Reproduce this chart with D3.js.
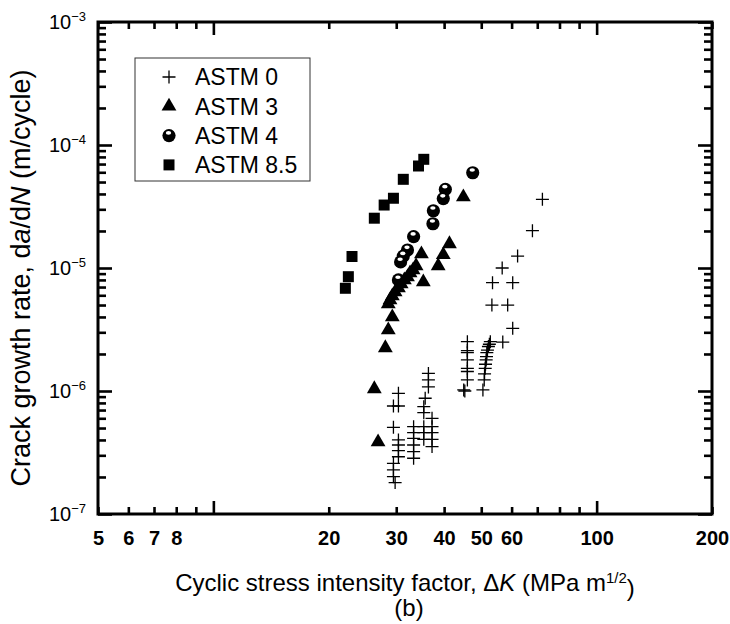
<!DOCTYPE html>
<html>
<head>
	<title>Crack growth rate</title>
	<meta charset='utf-8'>
	<style>
		body { margin: 0; background: #fff; }
		svg { font-family: 'Liberation Sans', Arial, sans-serif; }
		.axis path.domain { display: none; }
		.axis line { stroke: #000; stroke-width: 2.6px; }
		.axis__x text { font-size: 20px; font-weight: bold; fill: #000; }
		.axis__y text { font-size: 20px; fill: #000; }
		.frame { fill: none; stroke: #000; stroke-width: 3px; }
		.cross { fill: none; stroke: #000; stroke-width: 1.3px; }
		.legend-box { fill: #fff; stroke: #333; stroke-width: 1px; }
		.legend text { font-size: 23px; }
		.label { font-size: 24px; }
	</style>
</head>
<body>

<script src='https://d3js.org/d3.v7.min.js'></script>
<script>
	'use strict';

	// ticks
	const xTicks = [5, 6, 7, 8, 9, 10, 20, 30, 40, 50, 60, 70, 80, 90, 100, 200];
	const xLabels = [5, 6, 7, 8, 20, 30, 40, 50, 60, 100, 200];
	const xMajor = [10, 100];
	const yDecades = [-7, -6, -5, -4, -3];

	// legend
	const series = ['ASTM 0', 'ASTM 3', 'ASTM 4', 'ASTM 8.5'];

	// ASTM 0 (crosses)
	const astm0K = [72.2, 68.0, 62.2, 56.7, 53.5, 60.4, 53.3, 58.6, 60.4, 56.9,
		46.0, 46.0, 46.0, 46.0, 46.0, 46.0, 46.0, 45.0, 45.3,
		52.8, 52.5, 52.2, 51.9, 51.7, 51.6, 51.5, 51.3, 51.2, 51.0, 50.9, 50.5,
		30.4, 29.5, 30.4, 29.5, 30.4, 30.4, 30.4, 30.4, 29.5, 29.5, 29.5, 29.8,
		33.3, 33.3, 33.3, 33.3, 33.3, 33.3,
		35.4, 35.4, 37.2, 36.4, 36.4, 36.4, 35.7,
		35.4, 35.4, 35.4, 37.2, 37.2, 37.2, 37.2];
	const astm0Rate = [3.62e-5, 2.01e-5, 1.25e-5, 1.0e-5, 7.6e-6, 7.6e-6, 5.0e-6, 5.0e-6, 3.23e-6, 2.5e-6,
		2.52e-6, 2.13e-6, 2.05e-6, 1.79e-6, 1.53e-6, 1.44e-6, 1.23e-6, 1.02e-6, 1.0e-6,
		2.52e-6, 2.4e-6, 2.3e-6, 2.15e-6, 2.05e-6, 1.9e-6, 1.79e-6, 1.65e-6, 1.53e-6, 1.38e-6, 1.23e-6, 1.02e-6,
		9.58e-7, 7.55e-7, 7.55e-7, 5.07e-7, 4.0e-7, 3.64e-7, 3.27e-7, 2.92e-7, 2.58e-7, 2.28e-7, 2.01e-7, 1.8e-7,
		5.13e-7, 4.58e-7, 4.12e-7, 3.64e-7, 3.21e-7, 2.84e-7,
		7.45e-7, 6.66e-7, 6.0e-7, 1.39e-6, 1.23e-6, 1.08e-6, 8.73e-7,
		5.13e-7, 4.58e-7, 4.05e-7, 5.13e-7, 4.58e-7, 4.05e-7, 3.53e-7];

	// ASTM 3 (triangles)
	const astm3K = [44.9, 41.3, 39.8, 38.6, 34.9, 35.3,
		28.6, 28.9, 29.3, 29.8, 30.4, 30.9, 31.5, 32.1, 32.6, 33.2, 33.8,
		29.3, 28.6, 28.1, 26.3, 26.9];
	const astm3Rate = [3.78e-5, 1.57e-5, 1.28e-5, 1.04e-5, 1.30e-5, 7.7e-6,
		5.1e-6, 5.49e-6, 5.92e-6, 6.38e-6, 6.88e-6, 7.41e-6, 7.99e-6, 8.45e-6, 9.1e-6, 9.63e-6, 1.04e-5,
		4.0e-6, 3.13e-6, 2.24e-6, 1.04e-6, 3.85e-7];

	// ASTM 4 (circles)
	const astm4K = [47.5, 40.3, 39.8, 37.5, 37.4, 33.3, 32.1, 31.3, 30.8, 30.4];
	const astm4Rate = [5.95e-5, 4.36e-5, 3.67e-5, 2.92e-5, 2.29e-5, 1.80e-5, 1.40e-5, 1.25e-5, 1.12e-5, 8.0e-6];

	// ASTM 8.5 (squares)
	const astm85K = [35.4, 34.3, 31.3, 29.5, 27.9, 26.3, 23.0, 22.5, 22.1];
	const astm85Rate = [7.65e-5, 6.75e-5, 5.26e-5, 3.69e-5, 3.25e-5, 2.54e-5, 1.24e-5, 8.5e-6, 6.84e-6];

	const margin = {top: 22, right: 18, bottom: 110, left: 98};
	const width = 730 - margin.left - margin.right;
	const height = 624 - margin.top - margin.bottom;

	const xScale = d3.scaleLog().domain([5, 200]).range([0, width]);
	const yScale = d3.scaleLog().domain([1e-7, 1e-3]).range([height, 0]);

	const yTicks = [];
	yDecades.forEach(function(e) {
		for (let m = 1; m <= 9; m++) {
			if (e === -3 && m > 1) break;
			yTicks.push(m * Math.pow(10, e));
		}
	});
	const isDecade = function(d) {return Math.abs(Math.log10(d) - Math.round(Math.log10(d))) < 1e-6;};

	const svg = d3.select('body').append('svg')
		.attr('width', 730)
		.attr('height', 624);

	const g = svg.append('g')
		.attr('transform', 'translate(' + margin.left + ',' + margin.top + ')');

	// axes, ticks point inward
	const axisB = g.append('g')
		.attr('class', 'axis axis__x')
		.attr('transform', 'translate(0,' + height + ')')
		.call(d3.axisBottom(xScale)
			.tickValues(xTicks)
			.tickSize(-7)
			.tickPadding(17)
			.tickFormat(function(d) {return xLabels.indexOf(d) >= 0 ? d : '';})
		);
	axisB.selectAll('.tick line').filter(function(d) {return xMajor.indexOf(d) >= 0;}).attr('y2', -13);

	const axisT = g.append('g')
		.attr('class', 'axis')
		.call(d3.axisTop(xScale).tickValues(xTicks).tickSize(-7).tickFormat(''));
	axisT.selectAll('.tick line').filter(function(d) {return xMajor.indexOf(d) >= 0;}).attr('y2', 13);

	const axisL = g.append('g')
		.attr('class', 'axis axis__y')
		.call(d3.axisLeft(yScale)
			.tickValues(yTicks)
			.tickSize(-8)
			.tickPadding(12)
			.tickFormat('')
		);
	axisL.selectAll('.tick line').filter(isDecade).attr('x2', 14);
	axisL.selectAll('.tick').filter(isDecade).select('text').each(function(d) {
		const t = d3.select(this);
		t.text('10');
		t.append('tspan')
			.attr('dy', '-0.62em')
			.style('font-size', '13px')
			.text('\u2212' + Math.round(-Math.log10(d)));
	});

	const axisR = g.append('g')
		.attr('class', 'axis')
		.attr('transform', 'translate(' + width + ',0)')
		.call(d3.axisRight(yScale).tickValues(yTicks).tickSize(-8).tickFormat(''));
	axisR.selectAll('.tick line').filter(isDecade).attr('x2', -14);

	g.append('rect')
		.attr('class', 'frame')
		.attr('width', width)
		.attr('height', height);

	// markers
	const zip = function(ks, rs) {return ks.map(function(k, i) {return {k: k, r: rs[i]};});};
	const tri = d3.symbol().type(d3.symbolTriangle).size(95);
	const sq = d3.symbol().type(d3.symbolSquare).size(121);
	const plus = 'M-6.5,0H6.5M0,-6.5V6.5';

	function drawCircle(sel) {
		sel.append('circle').attr('r', 6.6).attr('fill', '#000');
		sel.append('ellipse').attr('cx', -0.5).attr('cy', -2.7).attr('rx', 2.7).attr('ry', 1.8).attr('fill', '#fff');
	}

	g.selectAll('.cross')
		.data(zip(astm0K, astm0Rate))
		.enter()
		.append('path')
		.attr('class', 'cross')
		.attr('d', plus)
		.attr('transform', function(d) {return 'translate(' + xScale(d.k) + ',' + yScale(d.r) + ')';});

	g.selectAll('.tri')
		.data(zip(astm3K, astm3Rate))
		.enter()
		.append('path')
		.attr('class', 'tri')
		.attr('d', tri)
		.attr('transform', function(d) {return 'translate(' + xScale(d.k) + ',' + yScale(d.r) + ')';});

	g.selectAll('.ball')
		.data(zip(astm4K, astm4Rate))
		.enter()
		.append('g')
		.attr('class', 'ball')
		.attr('transform', function(d) {return 'translate(' + xScale(d.k) + ',' + yScale(d.r) + ')';})
		.call(drawCircle);

	g.selectAll('.sq')
		.data(zip(astm85K, astm85Rate))
		.enter()
		.append('path')
		.attr('class', 'sq')
		.attr('d', sq)
		.attr('transform', function(d) {return 'translate(' + xScale(d.k) + ',' + yScale(d.r) + ')';});

	// legend
	const legend = svg.append('g').attr('class', 'legend');
	legend.append('rect')
		.attr('class', 'legend-box')
		.attr('x', 135).attr('y', 58)
		.attr('width', 175).attr('height', 123);

	const rows = legend.selectAll('.row')
		.data(series)
		.enter()
		.append('g')
		.attr('class', 'row')
		.attr('transform', function(d, i) {return 'translate(169,' + (77 + i * 29.3) + ')';});

	rows.append('text')
		.attr('x', 26)
		.attr('dy', '0.36em')
		.text(function(d) {return d;});

	rows.filter(function(d, i) {return i === 0;}).append('path').attr('class', 'cross').attr('d', plus);
	rows.filter(function(d, i) {return i === 1;}).append('path').attr('d', tri);
	rows.filter(function(d, i) {return i === 2;}).call(drawCircle);
	rows.filter(function(d, i) {return i === 3;}).append('path').attr('d', sq);

	// axis titles
	const xt = svg.append('text')
		.attr('class', 'label')
		.attr('x', margin.left + width / 2)
		.attr('y', 591)
		.attr('text-anchor', 'middle');
	xt.append('tspan').text('Cyclic stress intensity factor, \u0394');
	xt.append('tspan').style('font-style', 'italic').text('K');
	xt.append('tspan').text(' (MPa m');
	xt.append('tspan').attr('dy', '-0.55em').style('font-size', '15px').text('1/2');
	xt.append('tspan').attr('dy', '0.55em').text(')');

	svg.append('text')
		.attr('class', 'label')
		.attr('x', margin.left + width / 2 + 4)
		.attr('y', 616)
		.attr('text-anchor', 'middle')
		.text('(b)');

	const yt = svg.append('text')
		.attr('class', 'label')
		.attr('transform', 'translate(30,' + 278 + ') rotate(-90)')
		.attr('text-anchor', 'middle')
		.style('font-size', '27px');
	yt.append('tspan').text('Crack growth rate, d');
	yt.append('tspan').style('font-style', 'italic').text('a');
	yt.append('tspan').text('/d');
	yt.append('tspan').style('font-style', 'italic').text('N');
	yt.append('tspan').text(' (m/cycle)');

</script>
</body>
</html>
